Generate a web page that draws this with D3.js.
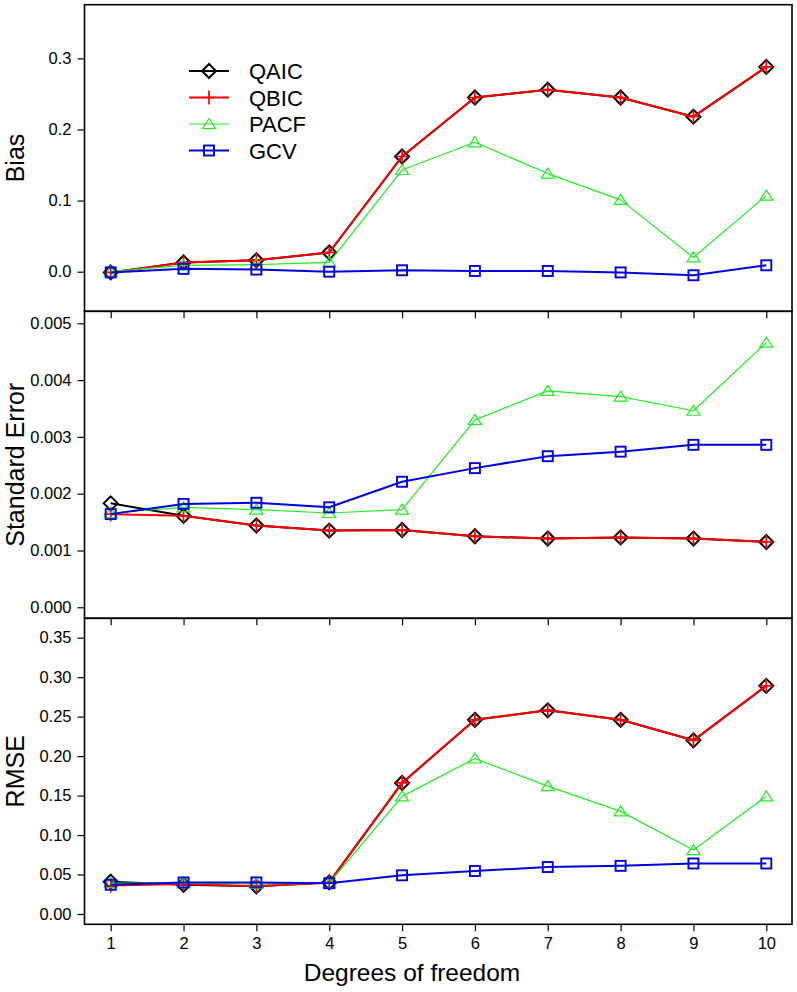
<!DOCTYPE html>
<html><head><meta charset="utf-8">
<script src="https://cdn.jsdelivr.net/npm/d3@7"></script>
<style>
body{margin:0;background:#fff;}
svg{display:block;font-family:"Liberation Sans",Arial,sans-serif;}
</style></head>
<body>
<svg id="c" width="797" height="992"></svg>
<script>
const dfs = [1,2,3,4,5,6,7,8,9,10];
const seriesNames = ["QAIC","QBIC","PACF","GCV"];

const biasQAIC = [-0.001,0.013,0.016,0.027,0.162,0.245,0.256,0.245,0.218,0.288];
const biasQBIC = [-0.001,0.013,0.016,0.027,0.162,0.245,0.256,0.245,0.218,0.288];
const biasPACF = [0.000,0.009,0.010,0.013,0.143,0.182,0.138,0.101,0.020,0.107];
const biasGCV  = [-0.001,0.004,0.003,0.000,0.002,0.001,0.001,-0.001,-0.005,0.009];

const seQAIC = [0.00183,0.00161,0.00144,0.00135,0.00136,0.00125,0.00121,0.00123,0.00121,0.00115];
const seQBIC = [0.00164,0.00161,0.00144,0.00135,0.00136,0.00125,0.00121,0.00123,0.00121,0.00115];
const sePACF = [0.00166,0.00176,0.00172,0.00166,0.00172,0.00330,0.00381,0.00371,0.00346,0.00466];
const seGCV  = [0.00164,0.00182,0.00184,0.00176,0.00221,0.00245,0.00266,0.00274,0.00286,0.00286];

const rmseQAIC = [0.041,0.037,0.035,0.040,0.166,0.246,0.258,0.246,0.220,0.289];
const rmseQBIC = [0.036,0.038,0.035,0.040,0.166,0.246,0.258,0.246,0.220,0.289];
const rmsePACF = [0.039,0.039,0.038,0.039,0.149,0.197,0.162,0.130,0.081,0.149];
const rmseGCV  = [0.037,0.040,0.040,0.039,0.049,0.0545,0.0595,0.061,0.064,0.064];

const biasTicks = [0.0,0.1,0.2,0.3];
const seTicks = [0.000,0.001,0.002,0.003,0.004,0.005];
const rmseTicks = [0.00,0.05,0.10,0.15,0.20,0.25,0.30,0.35];

const panels = [
  {title:"Bias", data:[biasQAIC,biasQBIC,biasPACF,biasGCV], ticks:biasTicks, fmt:d3.format(".1f"),
   domain:[-0.0557,0.3755], top:4.7, bottom:311.3, topTicks:false, bottomLabels:false},
  {title:"Standard Error", data:[seQAIC,seQBIC,sePACF,seGCV], ticks:seTicks, fmt:d3.format(".3f"),
   domain:[-0.000194,0.005211], top:311.3, bottom:618.3, topTicks:true, bottomLabels:false},
  {title:"RMSE", data:[rmseQAIC,rmseQBIC,rmsePACF,rmseGCV], ticks:rmseTicks, fmt:d3.format(".2f"),
   domain:[-0.01305,0.3746], top:618.3, bottom:924.3, topTicks:true, bottomLabels:true}
];

const styles = [
  {color:"#000000", width:2,   marker:"diamond"},
  {color:"#ff0000", width:2,   marker:"plus"},
  {color:"#1fee1f", width:1.2, marker:"triangle"},
  {color:"#0000e0", width:2,   marker:"square"}
];

const L = 84.5, R = 792;
const x = d3.scaleLinear().domain([1,10]).range([110.7,766.3]);
const svg = d3.select("#c");

function drawMarker(g, type, color){
  if(type==="diamond"){
    g.append("path").attr("d","M0,-7L7,0L0,7L-7,0Z").attr("fill","none").attr("stroke",color).attr("stroke-width",2);
  } else if(type==="plus"){
    g.append("path").attr("d","M-6.5,0H6.5M0,-7V7").attr("fill","none").attr("stroke",color).attr("stroke-width",1.7);
  } else if(type==="triangle"){
    g.append("path").attr("d","M0,-5.5L6.5,4.5L-6.5,4.5Z").attr("fill","none").attr("stroke",color).attr("stroke-width",1.2);
  } else {
    g.append("rect").attr("x",-5).attr("y",-5).attr("width",10).attr("height",10).attr("fill","none").attr("stroke",color).attr("stroke-width",1.9);
  }
}

panels.forEach((p,pi)=>{
  const y = d3.scaleLinear().domain(p.domain).range([p.bottom,p.top]);
  const g = svg.append("g");
  const ya = g.append("g").attr("transform",`translate(${L},0)`)
    .call(d3.axisLeft(y).tickValues(p.ticks).tickFormat(p.fmt).tickSize(7).tickPadding(6));
  ya.select(".domain").remove();
  ya.selectAll("line").attr("stroke","#000").attr("stroke-width",1.2);
  ya.selectAll("text").attr("font-size",16.5).attr("fill","#000").attr("font-family","Liberation Sans, Arial, sans-serif");
  if(p.topTicks){
    const ta = g.append("g").attr("transform",`translate(0,${p.top})`)
      .call(d3.axisBottom(x).tickValues(dfs).tickSize(7).tickFormat(""));
    ta.select(".domain").remove();
    ta.selectAll("line").attr("stroke","#000").attr("stroke-width",1.2);
  }
  if(p.bottomLabels){
    const ba = g.append("g").attr("transform",`translate(0,${p.bottom})`)
      .call(d3.axisBottom(x).tickValues(dfs).tickSize(7).tickPadding(6).tickFormat(d3.format("d")));
    ba.select(".domain").remove();
    ba.selectAll("line").attr("stroke","#000").attr("stroke-width",1.2);
    ba.selectAll("text").attr("font-size",16.5).attr("fill","#000").attr("font-family","Liberation Sans, Arial, sans-serif");
  }
  g.append("rect").attr("x",L).attr("y",p.top).attr("width",R-L).attr("height",p.bottom-p.top)
    .attr("fill","none").attr("stroke","#000").attr("stroke-width",1.6);
  g.append("text").attr("transform",`translate(24,${(p.top+p.bottom)/2}) rotate(-90)`)
    .attr("text-anchor","middle").attr("font-size",25).attr("fill","#000").text(p.title);
  const line = d3.line().x((d,i)=>x(dfs[i])).y(d=>y(d));
  p.data.forEach((vals,si)=>{
    const st = styles[si];
    g.append("path").datum(vals).attr("d",line).attr("fill","none")
      .attr("stroke",st.color).attr("stroke-width",st.width).attr("stroke-linejoin","round");
    vals.forEach((v,i)=>{
      const mg = g.append("g").attr("transform",`translate(${x(dfs[i])},${y(v)})`);
      drawMarker(mg, st.marker, st.color);
    });
  });
});

const leg = svg.append("g");
const legY = [71,97.5,124,150.5];
seriesNames.forEach((n,i)=>{
  const st = styles[i];
  leg.append("line").attr("x1",189).attr("x2",229).attr("y1",legY[i]).attr("y2",legY[i])
    .attr("stroke",st.color).attr("stroke-width",st.width);
  const mg = leg.append("g").attr("transform",`translate(209,${legY[i]})`);
  drawMarker(mg, st.marker, st.color);
  leg.append("text").attr("x",249).attr("y",legY[i]+8).attr("font-size",22).attr("fill","#000").text(n);
});

svg.append("text").attr("x",412).attr("y",981).attr("text-anchor","middle")
  .attr("font-size",24.5).attr("fill","#000").text("Degrees of freedom");
</script>
</body></html>
